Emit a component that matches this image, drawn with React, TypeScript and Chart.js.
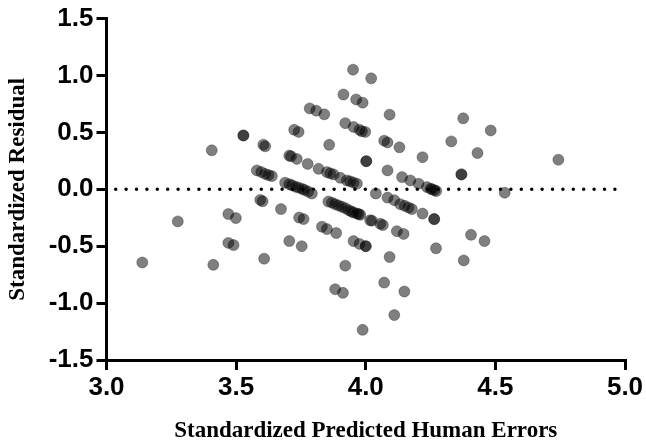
import React, { useEffect, useRef } from "react";
import { Chart, registerables } from "chart.js";

Chart.register(...registerables);

// Standardized predicted human errors (x) for each observation
const predicted: number[] = [
  3.138, 3.275, 3.406, 3.412, 3.470, 3.499, 3.470, 3.490, 3.528, 3.528,
  3.608, 3.605, 3.612, 3.580, 3.597, 3.612, 3.625, 3.638, 3.593, 3.602,
  3.673, 3.689, 3.705, 3.716, 3.730, 3.742, 3.755, 3.764, 3.778, 3.792,
  3.705, 3.712, 3.734, 3.776, 3.818, 3.850, 3.863, 3.876, 3.902, 3.927,
  3.940, 3.953, 3.966, 3.784, 3.809, 3.840, 3.724, 3.741, 3.859, 3.951,
  3.914, 3.963, 3.988, 3.921, 3.953, 3.976, 3.985, 3.998, 4.002, 4.002,
  4.021, 4.092, 4.071, 4.084, 4.130, 4.219, 4.330, 4.376, 4.482, 4.431,
  4.369, 4.369, 4.743, 4.536, 4.084, 4.140, 4.172, 4.204, 4.236, 4.250,
  4.256, 4.265, 4.272, 4.039, 4.084, 4.110, 4.133, 4.150, 4.165, 4.178,
  4.219, 4.264, 4.264, 3.856, 3.870, 3.882, 3.895, 3.908, 3.921, 3.934,
  3.945, 3.953, 3.966, 3.973, 3.979, 3.743, 3.760, 3.705, 3.753, 3.831,
  3.850, 3.886, 3.921, 3.882, 3.912, 3.988, 4.017, 4.024, 4.056, 4.066,
  4.120, 4.146, 3.953, 3.976, 4.000, 4.000, 4.092, 4.271, 4.406, 4.458,
  4.378, 4.071, 4.149, 4.110,
];

// Standardized residual (y) for each observation
const residual: number[] = [
  -0.643, -0.282, 0.343, -0.664, -0.218, -0.253, -0.471, -0.490, 0.473, 0.473,
  -0.610, 0.392, 0.378, 0.166, 0.151, 0.135, 0.125, 0.116, -0.093, -0.105,
  -0.174, 0.058, 0.045, 0.035, 0.022, 0.014, 0.003, -0.006, -0.020, -0.037,
  0.296, 0.290, 0.267, 0.223, 0.180, 0.151, 0.140, 0.131, 0.101, 0.078,
  0.070, 0.058, 0.049, 0.711, 0.691, 0.659, 0.523, 0.504, 0.391, 1.051,
  0.833, 0.790, 0.761, 0.581, 0.548, 0.523, 0.510, 0.504, 0.247, 0.247,
  0.975, 0.656, 0.427, 0.412, 0.369, 0.282, 0.421, 0.624, 0.517, 0.319,
  0.131, 0.131, 0.260, -0.030, 0.166, 0.107, 0.078, 0.049, 0.020, 0.005,
  0.000, -0.008, -0.015, -0.037, -0.073, -0.096, -0.131, -0.145, -0.160, -0.174,
  -0.213, -0.262, -0.262, -0.108, -0.118, -0.131, -0.142, -0.154, -0.166, -0.183,
  -0.195, -0.204, -0.213, -0.218, -0.224, -0.248, -0.262, -0.455, -0.500, -0.329,
  -0.349, -0.384, -0.671, -0.878, -0.910, -1.235, -0.272, -0.276, -0.303, -0.314,
  -0.368, -0.392, -0.455, -0.480, -0.500, -0.500, -0.595, -0.518, -0.400, -0.455,
  -0.625, -0.820, -0.898, -1.105,
];

const xTicks: number[] = [3.0, 3.5, 4.0, 4.5, 5.0];
const yTicks: number[] = [-1.5, -1.0, -0.5, 0.0, 0.5, 1.0, 1.5];
const zeroLineX: number[] = [3.0, 5.0];
const zeroLineY: number[] = [0, 0];

const xTitle = "Standardized Predicted Human Errors";
const yTitle = "Standardized Residual";

export default function App() {
  const canvasRef = useRef<HTMLCanvasElement | null>(null);

  useEffect(() => {
    const canvas = canvasRef.current;
    if (!canvas) return;

    const points = predicted.map((x, i) => ({ x, y: residual[i] }));
    const zeroLine = zeroLineX.map((x, i) => ({ x, y: zeroLineY[i] }));

    const tickFont = { family: "'Liberation Sans', Arial, sans-serif", size: 26, weight: "bold" as const };
    const titleFont = { family: "'Liberation Serif', 'Times New Roman', serif", size: 23, weight: "bold" as const };

    const chart = new Chart(canvas, {
      type: "scatter",
      data: {
        datasets: [
          {
            type: "scatter",
            data: points,
            backgroundColor: "rgba(0,0,0,0.5)",
            borderColor: "rgba(0,0,0,0.3)",
            borderWidth: 1,
            pointRadius: 5.5,
            pointHoverRadius: 5.5,
            order: 1,
          },
          {
            type: "line",
            data: zeroLine,
            borderColor: "#000",
            borderWidth: 3.5,
            borderDash: [0, 10.4],
            borderDashOffset: 1.2,
            borderCapStyle: "round",
            pointRadius: 0,
            fill: false,
            showLine: true,
            order: 2,
          } as any,
        ],
      },
      options: {
        responsive: false,
        animation: false,
        layout: { padding: { left: 0, right: 21, top: 16, bottom: 0 } },
        plugins: {
          legend: { display: false },
          tooltip: { enabled: false },
        },
        scales: {
          x: {
            type: "linear",
            min: 3,
            max: 5,
            afterBuildTicks: (scale: any) => {
              scale.ticks = xTicks.map((v) => ({ value: v }));
            },
            afterFit: (scale: any) => {
              scale.height = 87;
            },
            ticks: {
              color: "#000",
              font: tickFont,
              padding: 2,
              maxRotation: 0,
              callback: (v: any) => Number(v).toFixed(1),
            },
            grid: {
              display: true,
              drawOnChartArea: false,
              drawTicks: true,
              tickLength: 10,
              tickWidth: 3,
              tickColor: "#000",
              color: "#000",
              lineWidth: 3,
            },
            border: { display: true, color: "#000", width: 3 },
            title: {
              display: true,
              text: xTitle,
              color: "#000",
              font: titleFont,
              padding: { top: 0, bottom: 2 },
            },
          },
          y: {
            type: "linear",
            min: -1.5,
            max: 1.5,
            afterBuildTicks: (scale: any) => {
              scale.ticks = yTicks.map((v) => ({ value: v }));
            },
            afterFit: (scale: any) => {
              scale.width = 106.5;
            },
            ticks: {
              color: "#000",
              font: tickFont,
              padding: 3,
              callback: (v: any) => Number(v).toFixed(1),
            },
            grid: {
              display: true,
              drawOnChartArea: false,
              drawTicks: true,
              tickLength: 10,
              tickWidth: 3,
              tickColor: "#000",
              color: "#000",
              lineWidth: 3,
            },
            border: { display: true, color: "#000", width: 3 },
            title: {
              display: true,
              text: yTitle,
              color: "#000",
              font: titleFont,
              padding: { top: 4, bottom: 0 },
            },
          },
        },
      },
    });

    return () => {
      chart.destroy();
    };
  }, []);

  return (
    <div style={{ position: "fixed", left: 0, top: 0, width: 646, height: 447, background: "#fff" }}>
      <canvas ref={canvasRef} width={646} height={447} style={{ display: "block" }} />
    </div>
  );
}
